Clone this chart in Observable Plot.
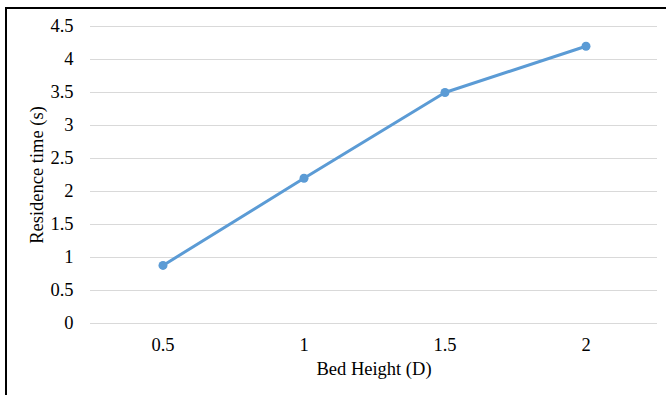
<!DOCTYPE html>
<html>
<head>
<meta charset="utf-8">
<script src="https://cdn.jsdelivr.net/npm/d3@7"></script>
<script src="https://cdn.jsdelivr.net/npm/@observablehq/plot@0.6"></script>
<style>
  html, body { margin: 0; padding: 0; background: #fff; }
  #wrap { position: relative; width: 666px; height: 395px; overflow: hidden; }
  #frame { position: absolute; left: 5px; top: 7px; right: -10px; bottom: -10px;
           border-left: 2px solid #000; border-top: 2px solid #000; pointer-events: none; }
</style>
</head>
<body>
<div id="wrap"><div id="frame"></div></div>
<script>
// Bed height (in diameters) vs. residence time
const bedHeights = ["0.5", "1", "1.5", "2"];
const residenceTimes = [0.88, 2.2, 3.5, 4.2];
const yTicks = [0, 0.5, 1, 1.5, 2, 2.5, 3, 3.5, 4, 4.5];

const data = bedHeights.map((h, i) => ({h, t: residenceTimes[i]}));
const blue = "#5B9BD5";

const chart = Plot.plot({
  width: 666,
  height: 395,
  marginLeft: 90,
  marginRight: 9,
  marginTop: 26,
  marginBottom: 72,
  style: {fontFamily: "'Liberation Serif', 'Times New Roman', serif", fontSize: "18.5px", color: "#000", background: "transparent"},
  x: {type: "band", domain: bedHeights, padding: 0},
  y: {domain: [0, 4.5]},
  marks: [
    Plot.gridY(yTicks, {stroke: "#d9d9d9", strokeOpacity: 1, strokeWidth: 1}),
    Plot.axisY(yTicks, {tickSize: 0, tickPadding: 17, tickFormat: d => String(d),
      label: "Residence time (s)", labelAnchor: "center", labelArrow: "none", labelOffset: 61}),
    Plot.axisX({tickSize: 0, tickPadding: 14, label: "Bed Height (D)", labelAnchor: "center",
      labelArrow: "none", labelOffset: 51}),
    Plot.line(data, {x: "h", y: "t", stroke: blue, strokeWidth: 3}),
    Plot.dot(data, {x: "h", y: "t", fill: blue, r: 4.5})
  ]
});
document.getElementById("wrap").insertBefore(chart, document.getElementById("frame"));
</script>
</body>
</html>
